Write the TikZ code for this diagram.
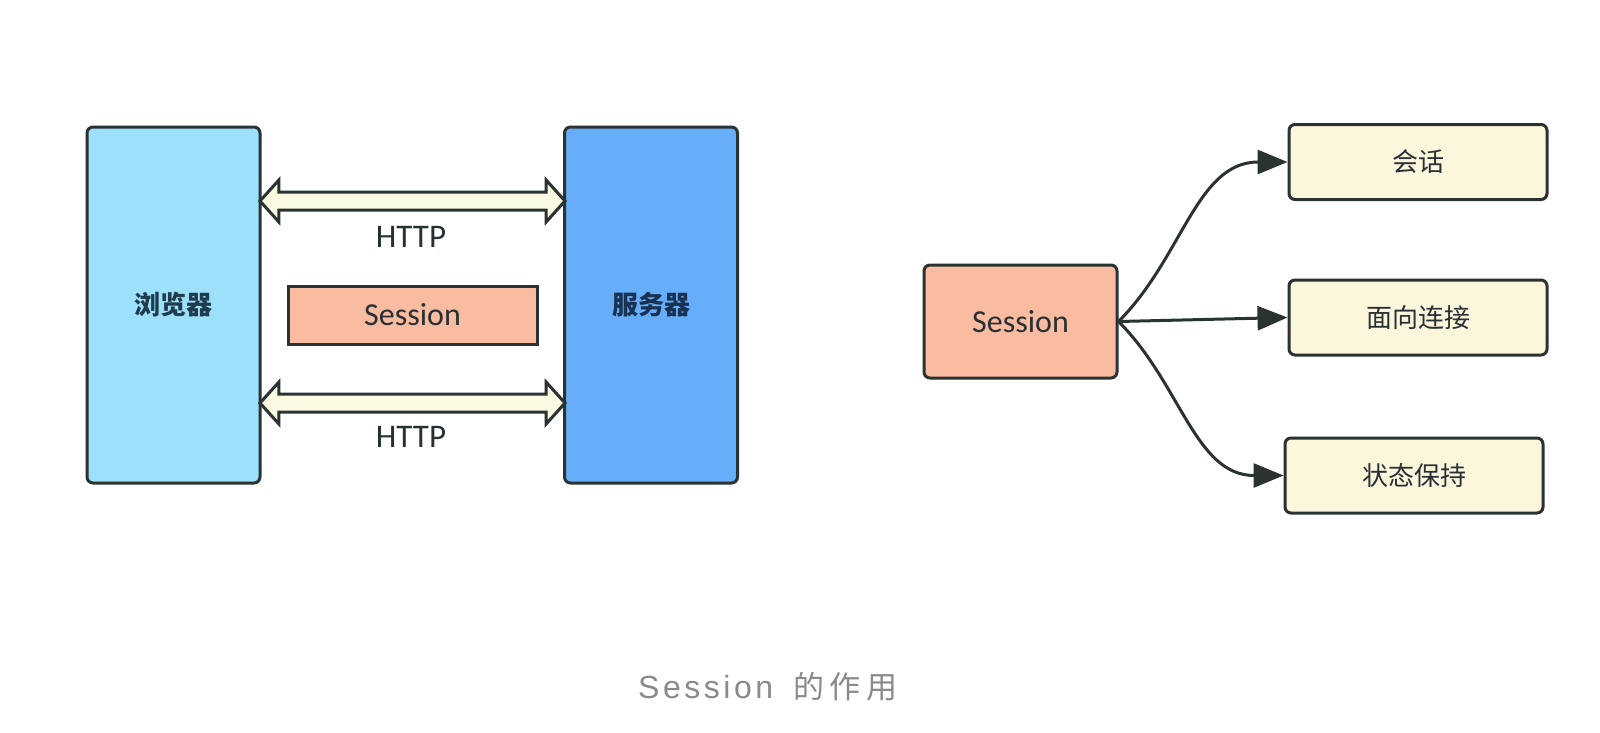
\documentclass[tikz,border=0pt]{standalone}
\usepackage{fontspec}
\setmainfont{Carlito}
\newfontfamily\cjk{Noto Sans CJK SC}
\newfontfamily\capfont[LetterSpace=11]{Liberation Sans}
\newfontfamily\capcjk[LetterSpace=18]{Noto Sans CJK SC}
\usetikzlibrary{arrows.meta,shapes.arrows}
\definecolor{brfill}{RGB}{156,224,252}
\definecolor{svfill}{RGB}{102,174,250}
\definecolor{sefill}{RGB}{250,188,160}
\definecolor{bxfill}{RGB}{252,246,220}
\definecolor{arfill}{RGB}{250,250,226}
\definecolor{edge}{RGB}{42,50,50}
\definecolor{captxt}{RGB}{138,138,138}
\definecolor{boxtxt}{RGB}{40,48,52}
\definecolor{brtxt}{RGB}{32,60,76}
\definecolor{svtxt}{RGB}{26,50,82}
\tikzset{
  base/.style={draw=edge, line width=3pt, rounded corners=6pt, inner sep=0pt, text=boxtxt},
  bigbox/.style={base, minimum width=173pt, minimum height=356pt},
  sess/.style={base, fill=sefill, rounded corners=0pt, font=\fontsize{32}{36}\selectfont},
  item/.style={base, fill=bxfill, minimum width=258pt, minimum height=75pt, font=\cjk\fontsize{26}{30}\selectfont},
  darrow/.style={double arrow, draw=edge, fill=arfill, line width=3pt, minimum height=305pt, minimum width=39pt, inner sep=7.5pt, double arrow head extend=12pt, double arrow tip angle=96},
  lbl/.style={font=\fontsize{33}{36}\selectfont, text=boxtxt},
  conn/.style={draw=edge, line width=3pt, -{Triangle[length=30pt,width=24pt]}}
}
\begin{document}
\begin{tikzpicture}[x=1pt,y=-1pt]
\useasboundingbox (0,0) rectangle (1600,732);
\fill[white] (0,0) rectangle (1600,732);
% left part
\node[bigbox, fill=brfill, font=\cjk\bfseries\fontsize{26}{30}\selectfont, text=brtxt] (br) at (173.5,305) {浏览器};
\node[bigbox, fill=svfill, font=\cjk\bfseries\fontsize{26}{30}\selectfont, text=svtxt] (sv) at (651,305) {服务器};
\node[sess, minimum width=249pt, minimum height=58pt] (s1) at (412.5,315) {Session};
\node[darrow] (a1) at (412.5,201) {};
\node[darrow] (a2) at (412.5,403) {};
\node[lbl] (h1) at (411,237) {HTTP};
\node[lbl] (h2) at (411,437) {HTTP};
% right part
\node[sess, rounded corners=6pt, minimum width=193pt, minimum height=113pt] (s2) at (1020.5,321.5) {Session};
\node[item] (c1) at (1418,162) {会话};
\node[item] (c2) at (1418,317.5) {面向连接};
\node[item] (c3) at (1414,475.5) {状态保持};
\draw[conn] (s2.east) to[out=45,in=180] (c1.west);
\draw[conn] (s2.east) -- (c2.west);
\draw[conn] (s2.east) to[out=-45,in=180] (c3.west);
% caption
\node[text=captxt, inner sep=0pt, anchor=west] (cap) at (638,687) {\capfont\fontsize{32}{34}\selectfont Session\hspace{20pt}\capcjk\fontsize{31}{34}\selectfont 的作用};
\end{tikzpicture}
\end{document}
